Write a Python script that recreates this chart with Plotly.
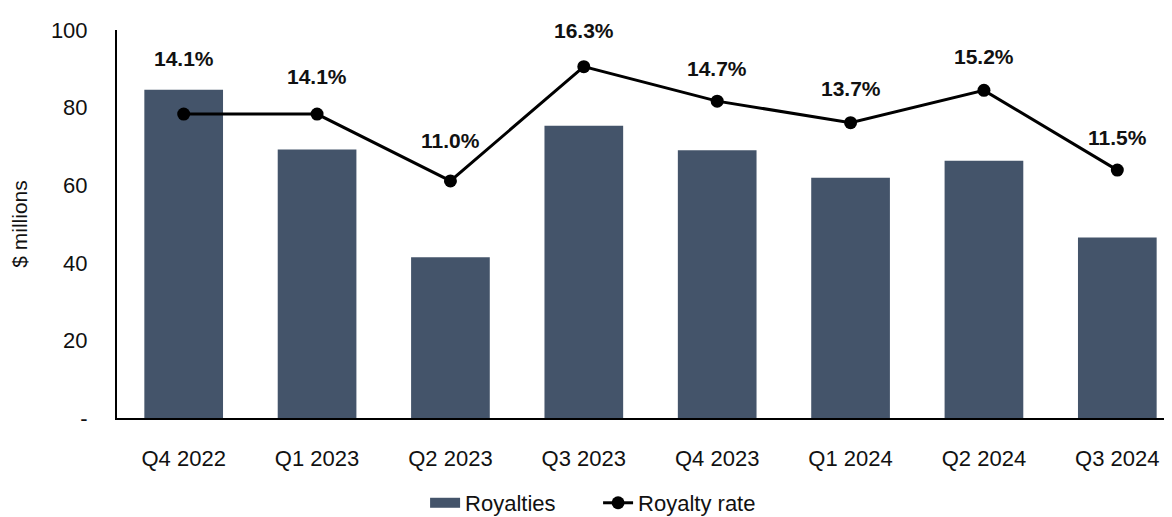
import plotly.graph_objects as go

quarters = ["Q4 2022", "Q1 2023", "Q2 2023", "Q3 2023", "Q4 2023", "Q1 2024", "Q2 2024", "Q3 2024"]
royalties = [84.6, 69.2, 41.4, 75.3, 69.0, 61.9, 66.3, 46.5]
royalty_rate = [0.141, 0.141, 0.110, 0.163, 0.147, 0.137, 0.152, 0.115]
y_ticks = [0, 20, 40, 60, 80, 100]
y_tick_text = ["-", "20", "40", "60", "80", "100"]

label_shift = [56, 38, 40, 36, 33, 34, 34, 33]

FONT = "Liberation Sans, Arial, sans-serif"
BAR = "#44546A"

fig = go.Figure()
fig.add_trace(go.Bar(x=quarters, y=royalties, name="Royalties", marker=dict(color=BAR, line=dict(width=0)),
                     width=0.59, showlegend=False))
# legend entry drawn as a wide swatch like the reference
fig.add_trace(go.Scatter(x=[None], y=[None], name="Royalties", mode="lines",
                         line=dict(color=BAR, width=13), showlegend=True))
fig.add_trace(go.Scatter(x=quarters, y=royalty_rate, name="Royalty rate", yaxis="y2", mode="lines+markers",
                         line=dict(color="black", width=3), marker=dict(color="black", size=13)))

for q, r, s in zip(quarters, royalty_rate, label_shift):
    fig.add_annotation(x=q, y=r, yref="y2", text=f"<b>{r*100:.1f}%</b>", showarrow=False,
                       yshift=s, font=dict(family=FONT, size=21, color="#111111"))

fig.update_layout(
    width=1164, height=509,
    margin=dict(l=109, r=0, t=22, b=99, autoexpand=False),
    plot_bgcolor="white", paper_bgcolor="white",
    font=dict(family=FONT, size=22, color="#111111"),
    bargap=0.41,
    showlegend=True,
    legend=dict(orientation="h", x=0.456, xanchor="center", y=-0.219, yanchor="middle",
                font=dict(family=FONT, size=22), tracegroupgap=0, bgcolor="rgba(0,0,0,0)",
                entrywidth=128, entrywidthmode="pixels"),
    xaxis=dict(range=[-0.5, 7.41], showline=True, linecolor="black", linewidth=2, showgrid=False,
               ticks="", ticklabelstandoff=20, tickfont=dict(size=22)),
    yaxis=dict(range=[0, 100], tickvals=y_ticks, ticktext=y_tick_text, showline=True, linecolor="black",
               linewidth=2, showgrid=False, zeroline=False, ticks="", ticklabelstandoff=23,
               title=dict(text="$ millions", font=dict(size=21), standoff=24), tickfont=dict(size=22)),
    yaxis2=dict(range=[0, 0.18], overlaying="y", side="right", visible=False),
)

fig.write_html("out.html")
